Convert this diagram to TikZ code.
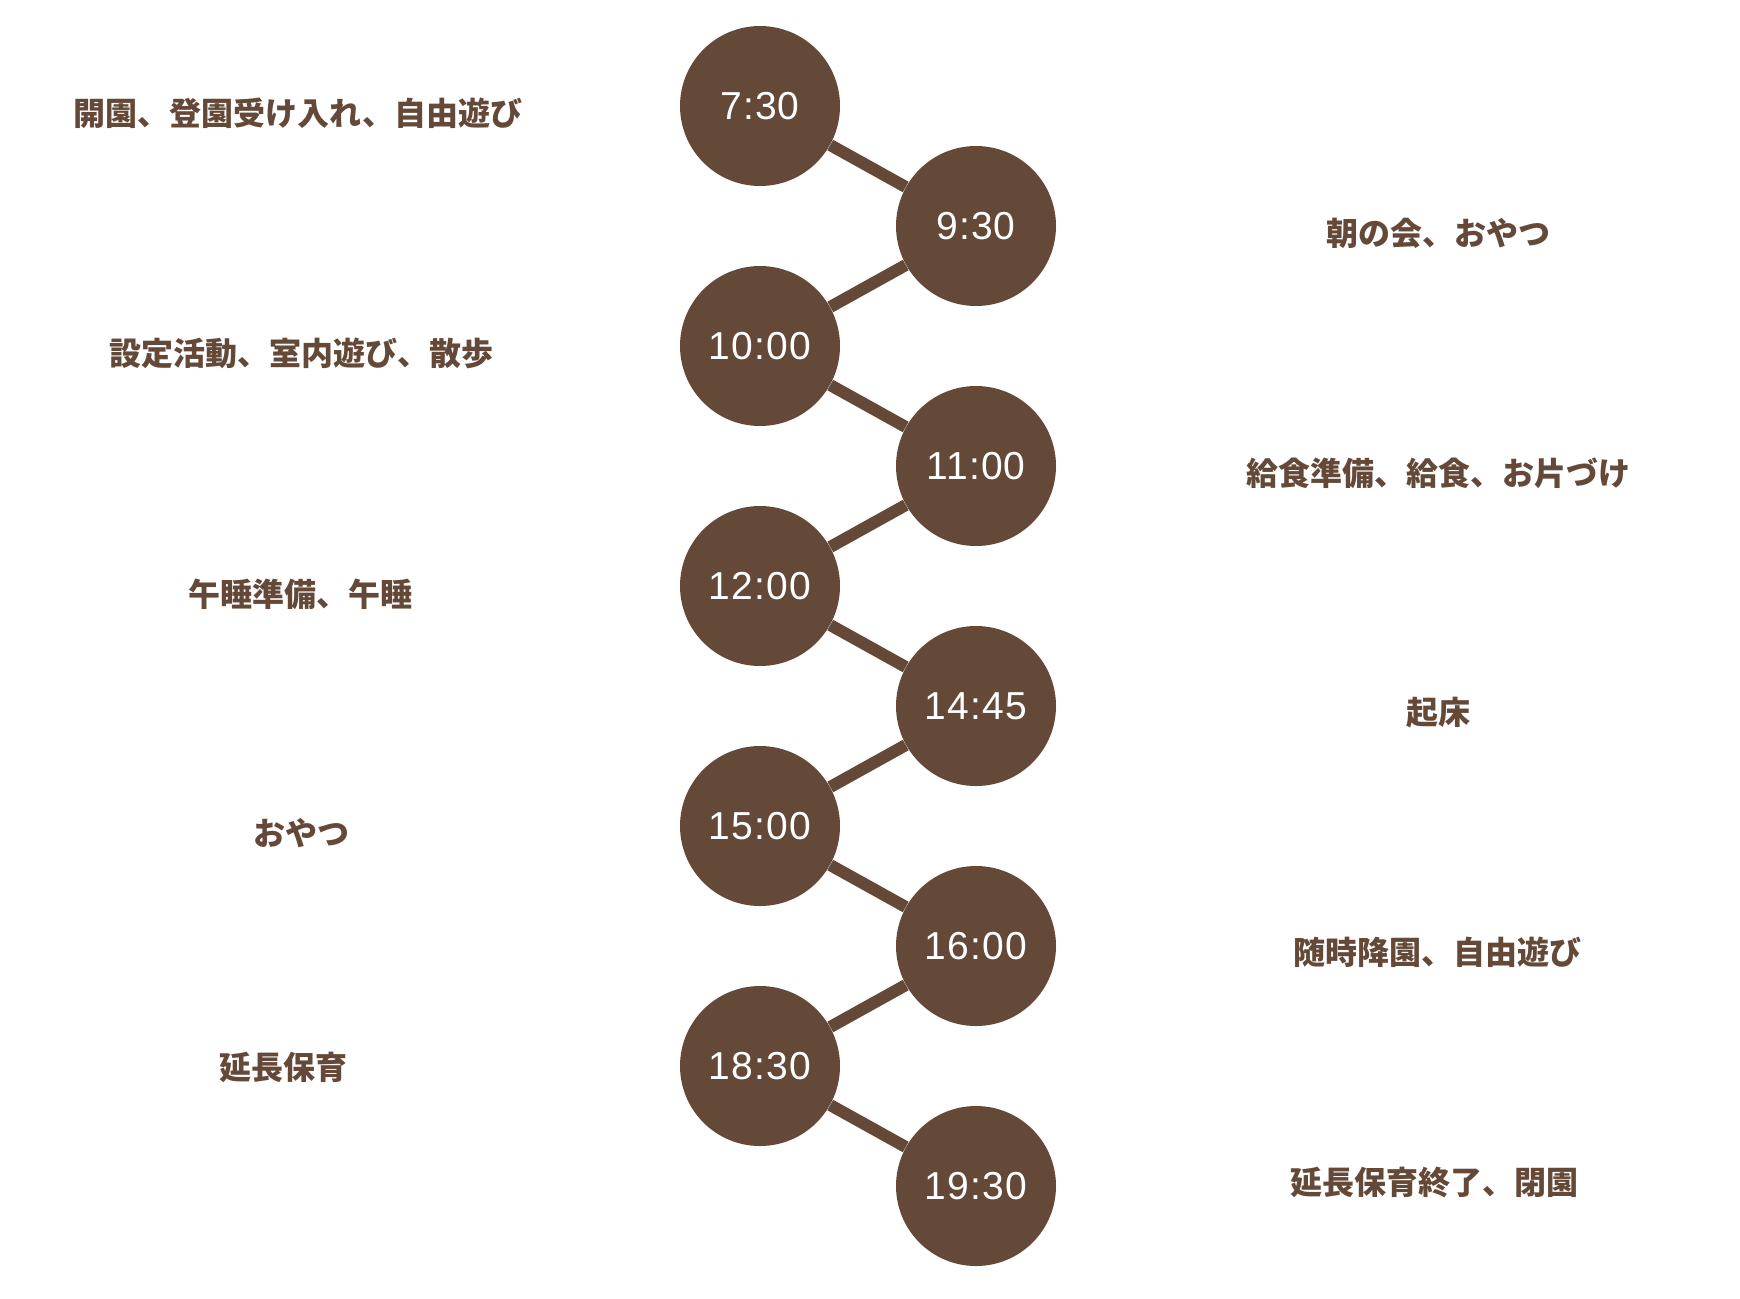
\documentclass[tikz,border=0pt]{standalone}
\usepackage{fontspec}
\newfontfamily\jpfont{Noto Sans CJK JP}
\newfontfamily\timefont[LetterSpace=3]{Liberation Sans}
\definecolor{bark}{RGB}{101,73,56}
\tikzset{
  timedot/.style={circle,fill=bark,text=white,minimum size=80pt,inner sep=0pt,
    font=\timefont\fontsize{19.5pt}{19.5pt}\selectfont},
  plan/.style={text=bark,inner sep=0pt,font=\jpfont\bfseries\fontsize{16pt}{16pt}\selectfont},
  link/.style={draw=bark,line width=6pt}
}
\begin{document}
\begin{tikzpicture}[x=0.5pt,y=-0.5pt]
      \useasboundingbox (0,0) rectangle (1740,1298);
      % time circles
      \foreach \n/\x/\y/\t in {%
        1/760/106/7:30,
        2/976/226/9:30,
        3/760/346/10:00,
        4/976/466/11:00,
        5/760/586/12:00,
        6/976/706/14:45,
        7/760/826/15:00,
        8/976/946/16:00,
        9/760/1066/18:30,
        10/976/1186/19:30}{%
          \node[timedot](t\n) at (\x,\y){\t};
        }
      % links between circles
      \foreach \a/\b in {1/2,2/3,3/4,4/5,5/6,6/7,7/8,8/9,9/10}{%
        \draw[link](t\a)--(t\b);
      }
      % what happens at each time
      \foreach \n/\x/\y/\s in {%
        1/298/113/開園、登園受け入れ、自由遊び,
        2/1438/233/朝の会、おやつ,
        3/301/353/設定活動、室内遊び、散歩,
        4/1438/473/給食準備、給食、お片づけ,
        5/300/594/午睡準備、午睡,
        6/1438/713/起床,
        7/301/833/おやつ,
        8/1437/952/随時降園、自由遊び,
        9/283/1067/延長保育,
        10/1434/1182/延長保育終了、閉園}{%
          \node[plan](p\n) at (\x,\y){\s};
        }
    \end{tikzpicture}
\end{document}
